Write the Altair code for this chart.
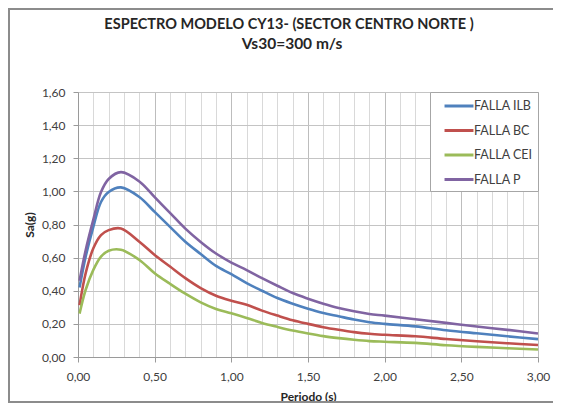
import altair as alt
import pandas as pd

title_line1 = "ESPECTRO MODELO CY13- (SECTOR  CENTRO NORTE )"
title_line2 = "Vs30=300 m/s"

periods = [0.01, 0.05, 0.10, 0.15, 0.20, 0.28, 0.40, 0.50, 0.60, 0.70, 0.80, 0.90,
           1.00, 1.10, 1.20, 1.30, 1.40, 1.50, 1.60, 1.70, 1.80, 1.90, 2.00,
           2.20, 2.40, 2.60, 2.80, 3.00]
falla_ilb = [0.42, 0.606, 0.786, 0.936, 0.996, 1.024, 0.966, 0.876, 0.786, 0.696, 0.622, 0.55,
             0.50, 0.446, 0.40, 0.356, 0.322, 0.292, 0.266, 0.246, 0.226, 0.21, 0.20,
             0.185, 0.162, 0.143, 0.125, 0.108]
falla_bc = [0.312, 0.506, 0.656, 0.736, 0.766, 0.776, 0.696, 0.616, 0.546, 0.476, 0.416, 0.37,
            0.34, 0.316, 0.28, 0.25, 0.222, 0.20, 0.18, 0.164, 0.15, 0.14, 0.134,
            0.125, 0.109, 0.095, 0.083, 0.072]
falla_cei = [0.262, 0.406, 0.526, 0.606, 0.642, 0.648, 0.586, 0.506, 0.442, 0.382, 0.33, 0.29,
             0.264, 0.236, 0.206, 0.182, 0.16, 0.142, 0.126, 0.114, 0.104, 0.096, 0.092,
             0.085, 0.071, 0.061, 0.053, 0.045]
falla_p = [0.46, 0.645, 0.83, 0.996, 1.075, 1.116, 1.06, 0.965, 0.87, 0.775, 0.695, 0.625,
           0.57, 0.525, 0.476, 0.43, 0.386, 0.352, 0.322, 0.296, 0.276, 0.26, 0.25,
           0.228, 0.206, 0.184, 0.164, 0.142]

series_names = ["FALLA ILB", "FALLA BC", "FALLA CEI", "FALLA P"]
series_colors = ["#4F81BD", "#C0504D", "#9BBB59", "#8064A2"]
x_ticks = [0.0, 0.1, 0.2, 0.3, 0.4, 0.5, 0.6, 0.7, 0.8, 0.9, 1.0, 1.1, 1.2, 1.3, 1.4, 1.5,
           1.6, 1.7, 1.8, 1.9, 2.0, 2.1, 2.2, 2.3, 2.4, 2.5, 2.6, 2.7, 2.8, 2.9, 3.0]
y_ticks = [0.0, 0.2, 0.4, 0.6, 0.8, 1.0, 1.2, 1.4, 1.6]

rows = []
for name, vals in zip(series_names, [falla_ilb, falla_bc, falla_cei, falla_p]):
    for p, v in zip(periods, vals):
        rows.append({"Periodo": p, "Sa": v, "Serie": name})
df = pd.DataFrame(rows)

FONT = "Lato"
TXT = "#404040"
major_test = "abs(datum.value * 2 - round(datum.value * 2)) < 0.01"
x_label_expr = f"({major_test}) ? replace(format(datum.value, '.2f'), '.', ',') : ''"
y_label_expr = "replace(format(datum.value, '.2f'), '.', ',')"

frame = alt.Chart(pd.DataFrame({"k": [0]})).mark_rect(
    fill="transparent", stroke="#8c8c8c", strokeWidth=2
).encode(
    x=alt.value(-69), x2=alt.value(480), y=alt.value(-83), y2=alt.value(310)
)

t1 = alt.Chart(pd.DataFrame({"t": [title_line1]})).mark_text(
    font=FONT, fontSize=14.5, fontWeight="bold", color="#262626",
    align="center", baseline="middle"
).encode(text="t:N", x=alt.value(211), y=alt.value(-67))

t2 = alt.Chart(pd.DataFrame({"t": [title_line2]})).mark_text(
    font=FONT, fontSize=15.5, fontWeight="bold", color="#262626",
    align="center", baseline="middle"
).encode(text="t:N", x=alt.value(214), y=alt.value(-48))

lines = alt.Chart(df).mark_line(strokeWidth=2.6, interpolate="catmull-rom").encode(
    x=alt.X("Periodo:Q",
            scale=alt.Scale(domain=[0, 3], nice=False),
            axis=alt.Axis(values=x_ticks, labelExpr=x_label_expr, title="Periodo (s)",
                          labelOverlap=False, labelFlush=False,
                          grid=True,
                          gridColor={"condition": {"test": major_test, "value": "#bdbdbd"},
                                     "value": "#d9d9d9"},
                          tickColor={"condition": {"test": major_test, "value": "#9a9a9a"},
                                     "value": "transparent"},
                          tickSize=5, labelPadding=9, titlePadding=9)),
    y=alt.Y("Sa:Q",
            scale=alt.Scale(domain=[0, 1.6], nice=False),
            axis=alt.Axis(values=y_ticks, labelExpr=y_label_expr, title="Sa(g)",
                          grid=True, gridColor="#c4c4c4", tickColor="#9a9a9a",
                          tickSize=5, labelPadding=8, titlePadding=5)),
    color=alt.Color("Serie:N",
                    scale=alt.Scale(domain=series_names, range=series_colors),
                    legend=alt.Legend(title=None, orient="top-right", offset=0,
                                      symbolType="M0.07,0H3.93", symbolSize=225,
                                      symbolStrokeWidth=3, labelOffset=21,
                                      padding=5, rowPadding=8.5,
                                      strokeColor="#a6a6a6", fillColor="white")),
)

chart = alt.layer(frame, t1, t2, lines).properties(
    width=460, height=265,
    padding={"left": 70, "top": 84, "right": 15, "bottom": 48},
    autosize="none",
).configure_view(stroke=None).configure_axis(
    labelFont=FONT, labelFontSize=12, labelColor=TXT,
    titleFont=FONT, titleFontSize=12, titleFontWeight="bold", titleColor="#262626",
    domainColor="#9a9a9a", domainWidth=1, gridWidth=1,
).configure_legend(
    labelFont=FONT, labelFontSize=12.5, labelColor=TXT,
)

chart.save("out.html", embed_options={"renderer": "svg", "actions": False})
